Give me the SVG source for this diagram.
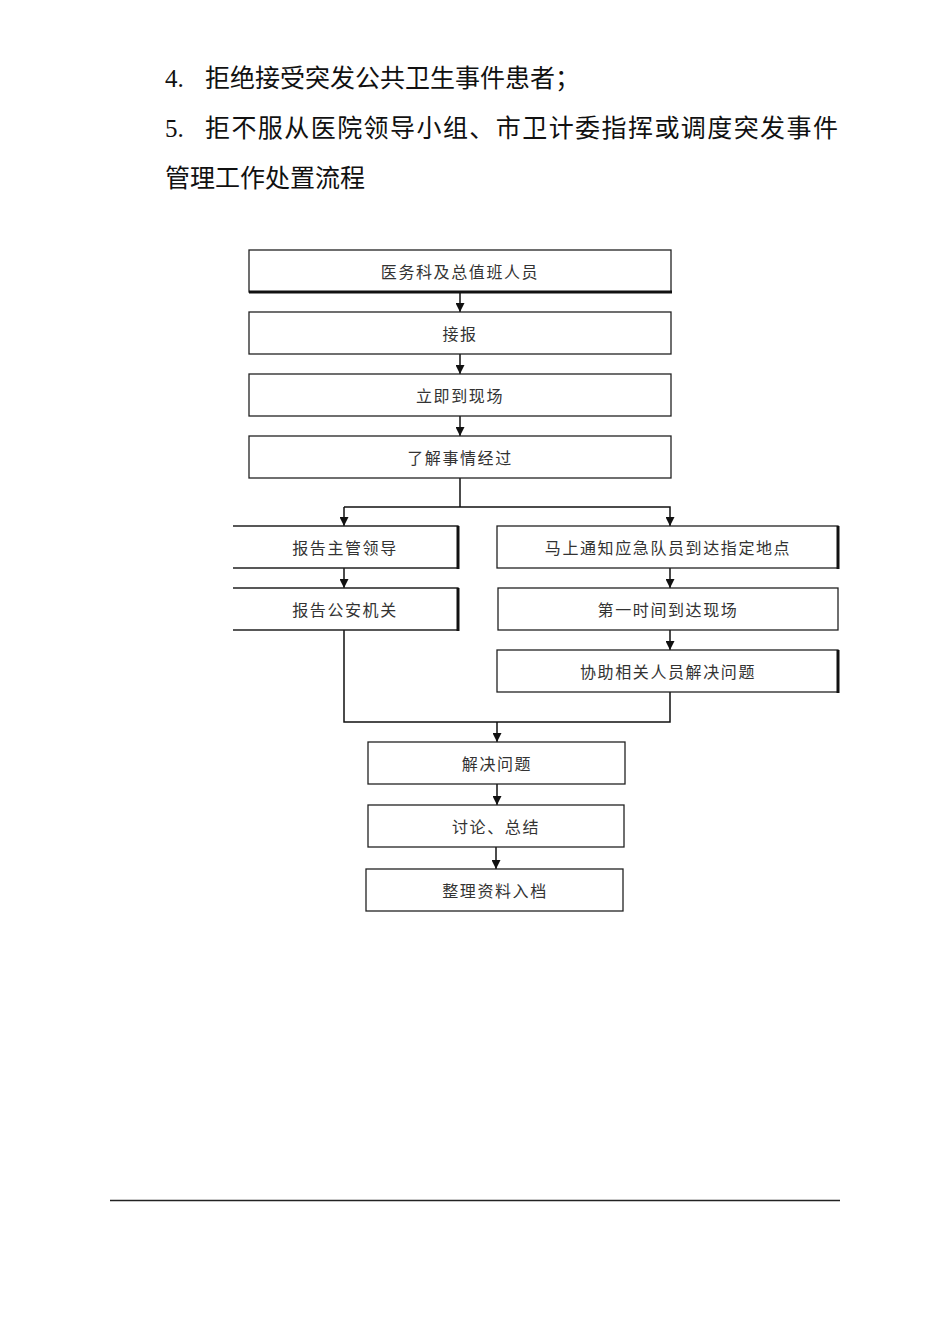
<svg xmlns="http://www.w3.org/2000/svg" width="950" height="1344" viewBox="0 0 950 1344">
<defs>
<style>
.hd{font-family:"Liberation Serif","Noto Sans CJK SC",serif;font-size:25px;fill:#111}
.bx{fill:#fff;stroke:#222;stroke-width:1.3}
.tx{font-family:"Noto Sans CJK SC",sans-serif;font-size:16px;fill:#333;text-anchor:middle;letter-spacing:1.6px;dominant-baseline:central}
.ln{fill:none;stroke:#111;stroke-width:1.5}
.th{fill:none;stroke:#111;stroke-width:3}
</style>
<marker id="ar" viewBox="0 0 10 10" refX="10" refY="5" markerWidth="9" markerHeight="9" markerUnits="userSpaceOnUse" orient="auto">
<path d="M0,0 L10,5 L0,10 Z" fill="#111"/>
</marker>
</defs>
<rect width="950" height="1344" fill="#fff"/>
<g id="header">
<text class="hd" x="165" y="87">4.<tspan x="205">拒绝接受突发公共卫生事件患者；</tspan></text>
<text class="hd" x="165" y="137">5.<tspan x="205" textLength="633" lengthAdjust="spacing">拒不服从医院领导小组、市卫计委指挥或调度突发事件</tspan></text>
<text class="hd" x="165" y="187">管理工作处置流程</text>
</g>
<g id="connectors">
<line class="ln" x1="460" y1="292" x2="460" y2="312" marker-end="url(#ar)"/>
<line class="ln" x1="460" y1="354" x2="460" y2="374" marker-end="url(#ar)"/>
<line class="ln" x1="460" y1="416" x2="460" y2="436" marker-end="url(#ar)"/>
<polyline class="ln" points="460,478 460,507"/>
<polyline class="ln" points="344,507 670,507 670,526" marker-end="url(#ar)"/>
<line class="ln" x1="344" y1="507" x2="344" y2="526" marker-end="url(#ar)"/>
<line class="ln" x1="344" y1="568" x2="344" y2="588" marker-end="url(#ar)"/>
<line class="ln" x1="670" y1="568" x2="670" y2="588" marker-end="url(#ar)"/>
<line class="ln" x1="670" y1="630" x2="670" y2="650" marker-end="url(#ar)"/>
<polyline class="ln" points="344,630 344,722 670,722 670,692"/>
<line class="ln" x1="497" y1="722" x2="497" y2="742" marker-end="url(#ar)"/>
<line class="ln" x1="497" y1="784" x2="497" y2="805" marker-end="url(#ar)"/>
<line class="ln" x1="496" y1="847" x2="496" y2="869" marker-end="url(#ar)"/>
</g>
<g id="n1"><rect class="bx" x="249" y="250" width="422" height="42"/><line class="th" x1="249" y1="292" x2="672" y2="292"/><text class="tx" x="460" y="271">医务科及总值班人员</text></g>
<g id="n2"><rect class="bx" x="249" y="312" width="422" height="42"/><text class="tx" x="460" y="333">接报</text></g>
<g id="n3"><rect class="bx" x="249" y="374" width="422" height="42"/><text class="tx" x="460" y="395">立即到现场</text></g>
<g id="n4"><rect class="bx" x="249" y="436" width="422" height="42"/><text class="tx" x="460" y="457">了解事情经过</text></g>
<g id="n5"><path class="bx" d="M233,526 H458 V568 H233"/><line class="th" x1="458" y1="526" x2="458" y2="569"/><text class="tx" x="345" y="547">报告主管领导</text></g>
<g id="n6"><path class="bx" d="M233,588 H458 V630 H233"/><line class="th" x1="458" y1="588" x2="458" y2="631"/><text class="tx" x="345" y="609">报告公安机关</text></g>
<g id="n7"><rect class="bx" x="497" y="526" width="341" height="42"/><line class="th" x1="838" y1="526" x2="838" y2="569"/><text class="tx" x="668" y="547">马上通知应急队员到达指定地点</text></g>
<g id="n8"><rect class="bx" x="498" y="588" width="340" height="42"/><text class="tx" x="668" y="609">第一时间到达现场</text></g>
<g id="n9"><rect class="bx" x="497" y="650" width="341" height="42"/><line class="th" x1="838" y1="650" x2="838" y2="693"/><text class="tx" x="668" y="671">协助相关人员解决问题</text></g>
<g id="n10"><rect class="bx" x="368" y="742" width="257" height="42"/><text class="tx" x="497" y="763">解决问题</text></g>
<g id="n11"><rect class="bx" x="368" y="805" width="256" height="42"/><text class="tx" x="496" y="826">讨论、总结</text></g>
<g id="n12"><rect class="bx" x="366" y="869" width="257" height="42"/><text class="tx" x="495" y="890">整理资料入档</text></g>
<line x1="110" y1="1200.5" x2="840" y2="1200.5" stroke="#222" stroke-width="1.3"/>
</svg>
